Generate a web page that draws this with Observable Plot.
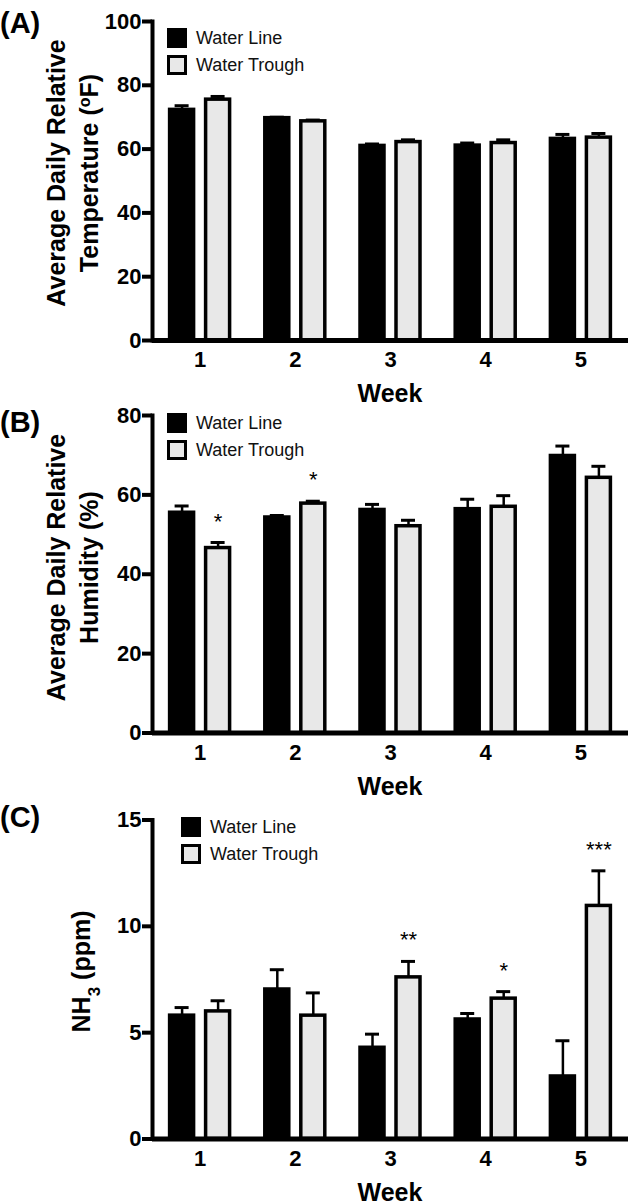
<!DOCTYPE html>
<html>
<head>
<meta charset="utf-8">
<script src="https://cdn.jsdelivr.net/npm/d3@7"></script>
<script src="https://cdn.jsdelivr.net/npm/@observablehq/plot@0.6"></script>
<style>
  html, body { margin: 0; padding: 0; background: #fff; }
  #chart { width: 630px; }
  #chart svg { display: block; }
</style>
</head>
<body>
<div id="chart"></div>
<script>
// ---- data ----
const weeks = [1, 2, 3, 4, 5];
const seriesNames = ["Water Line", "Water Trough"];

const tempLine = [72.3, 69.7, 61.0, 61.1, 63.2];
const tempLineErr = [1.3, 0.3, 0.6, 0.8, 1.4];
const tempTrough = [75.5, 68.7, 62.2, 61.9, 63.6];
const tempTroughErr = [1.0, 0.4, 0.7, 1.0, 1.3];
const tempSig = ["", "", "", "", ""];

const humLine = [55.5, 54.3, 56.2, 56.4, 69.8];
const humLineErr = [1.7, 0.5, 1.4, 2.5, 2.5];
const humTrough = [46.6, 57.8, 52.1, 57.0, 64.3];
const humTroughErr = [1.4, 0.6, 1.5, 2.8, 2.9];
const humSig = ["*", "*", "", "", ""];

const nh3Line = [5.8, 7.03, 4.29, 5.62, 2.94];
const nh3LineErr = [0.38, 0.93, 0.64, 0.28, 1.68];
const nh3Trough = [6.0, 5.8, 7.6, 6.6, 10.96];
const nh3TroughErr = [0.5, 1.07, 0.75, 0.33, 1.65];
const nh3Sig = ["", "", "**", "*", "***"];

const tempTicks = [0, 20, 40, 60, 80, 100];
const humTicks = [0, 20, 40, 60, 80];
const nh3Ticks = [0, 5, 10, 15];

// ---- styling ----
const FONT = "'Liberation Sans', Arial, Helvetica, sans-serif";
const GRAY = "#e8e8e8";
const W = 630, ML = 152, MR = 2;
const OFF = 18;      // half distance between the two bar centers
const BARW = 24;     // bar width (inside stroke)
const CAPW = 14;

function panel(cfg) {
  const step = (W - ML - MR) / weeks.length;
  const rows = (vals, errs, sig) => weeks.map((w, i) => ({week: w, value: vals[i], err: errs[i], sig: sig ? sig[i] : ""}));
  const dLine = rows(cfg.line, cfg.lineErr);
  const dTrough = rows(cfg.trough, cfg.troughErr, cfg.sig);
  const barInsetNear = step / 2 - OFF - BARW / 2;
  const barInsetFar = step - barInsetNear - BARW;
  const capInset = (step - CAPW) / 2;

  const svg = Plot.plot({
    width: W,
    height: cfg.height,
    marginLeft: ML,
    marginRight: MR,
    marginTop: cfg.marginTop,
    marginBottom: cfg.marginBottom,
    style: {fontFamily: FONT, fontWeight: "bold", color: "#000", background: "#fff", overflow: "visible"},
    x: {type: "band", domain: weeks, padding: 0, round: false},
    y: {domain: [0, cfg.yTicks[cfg.yTicks.length - 1]]},
    marks: [
      Plot.barY(dLine, {x: "week", y1: 0, y2: "value", fill: "#000", stroke: "#000", strokeWidth: 3.5,
        insetLeft: barInsetNear, insetRight: barInsetFar}),
      Plot.barY(dTrough, {x: "week", y1: 0, y2: "value", fill: GRAY, stroke: "#000", strokeWidth: 3.5,
        insetLeft: barInsetFar, insetRight: barInsetNear}),
      Plot.ruleX(dLine, {x: "week", y1: "value", y2: d => d.value + d.err, dx: -OFF, stroke: "#000", strokeWidth: 2.5}),
      Plot.ruleX(dTrough, {x: "week", y1: "value", y2: d => d.value + d.err, dx: OFF, stroke: "#000", strokeWidth: 2.5}),
      Plot.tickY(dLine, {x: "week", y: d => d.value + d.err, dx: -OFF, insetLeft: capInset, insetRight: capInset, stroke: "#000", strokeWidth: 3}),
      Plot.tickY(dTrough, {x: "week", y: d => d.value + d.err, dx: OFF, insetLeft: capInset, insetRight: capInset, stroke: "#000", strokeWidth: 3}),
      Plot.text(dTrough.filter(d => d.sig), {x: "week", y: d => d.value + d.err, text: "sig", dx: OFF, dy: -14,
        lineAnchor: "bottom", fontSize: 22, fontWeight: "normal", fill: "#000"}),
      Plot.axisY({ticks: cfg.yTicks, tickSize: 10, tickPadding: 1, strokeWidth: 4, fontSize: 22, fontWeight: "bold",
        label: null, tickFormat: d => String(d)}),
      Plot.axisX({tickSize: 0, tickPadding: 11, fontSize: 22, fontWeight: "bold", label: null}),
      Plot.frame({anchor: "left", stroke: "#000", strokeWidth: 4}),
      Plot.ruleY([0], {stroke: "#000", strokeWidth: 5})
    ]
  });

  const s = d3.select(svg);
  const axisY0 = cfg.height - cfg.marginBottom;

  // panel label
  s.append("text").attr("x", 0).attr("y", cfg.tagY).attr("text-anchor", "start")
    .attr("font-family", FONT).attr("font-weight", "bold").attr("font-size", 29)
    .text(cfg.tag);

  // y label (rotated)
  cfg.ylabel.forEach((line, i) => {
    const t = s.append("text").attr("transform", "rotate(-90)")
      .attr("x", -cfg.ylabelCY).attr("y", cfg.ylabelX[i])
      .attr("text-anchor", "middle").attr("font-family", FONT)
      .attr("font-weight", "bold").attr("font-size", 25).attr("fill", "#000");
    line.forEach(part => {
      const ts = t.append("tspan").text(part.t);
      if (part.sup) ts.attr("baseline-shift", "super").attr("font-size", 16);
      if (part.sub) ts.attr("baseline-shift", "sub").attr("font-size", 17);
    });
  });

  // x label
  s.append("text").attr("x", ML + (W - ML - MR) / 2).attr("y", axisY0 + 62)
    .attr("text-anchor", "middle").attr("font-family", FONT)
    .attr("font-weight", "bold").attr("font-size", 25).text("Week");

  // legend
  const lg = s.append("g");
  seriesNames.forEach((name, i) => {
    const y = cfg.legY + i * 27;
    lg.append("rect").attr("x", cfg.legX + 1.5).attr("y", y + 1.5)
      .attr("width", 17).attr("height", 17)
      .attr("fill", i === 0 ? "#000" : GRAY).attr("stroke", "#000").attr("stroke-width", 3);
    lg.append("text").attr("x", cfg.legX + 29).attr("y", y + 16.3).attr("text-anchor", "start")
      .attr("font-family", FONT).attr("font-weight", "normal").attr("font-size", 18)
      .attr("fill", "#111").text(name);
  });

  document.getElementById("chart").appendChild(svg);
}

panel({
  height: 405, marginTop: 21, marginBottom: 65,
  line: tempLine, lineErr: tempLineErr, trough: tempTrough, troughErr: tempTroughErr, sig: tempSig,
  yTicks: tempTicks, tag: "(A)", tagY: 33,
  ylabel: [[{t: "Average Daily Relative"}], [{t: "Temperature ("}, {t: "o", sup: true}, {t: "F)"}]],
  ylabelX: [65, 98], ylabelCY: 173,
  legX: 167, legY: 28
});

panel({
  height: 395, marginTop: 10, marginBottom: 67.5,
  line: humLine, lineErr: humLineErr, trough: humTrough, troughErr: humTroughErr, sig: humSig,
  yTicks: humTicks, tag: "(B)", tagY: 27,
  ylabel: [[{t: "Average Daily Relative"}], [{t: "Humidity (%)"}]],
  ylabelX: [65, 98], ylabelCY: 162.5,
  legX: 167, legY: 8
});

panel({
  height: 404, marginTop: 19.5, marginBottom: 65.5,
  line: nh3Line, lineErr: nh3LineErr, trough: nh3Trough, troughErr: nh3TroughErr, sig: nh3Sig,
  yTicks: nh3Ticks, tag: "(C)", tagY: 27,
  ylabel: [[{t: "NH"}, {t: "3", sub: true}, {t: " (ppm)"}]],
  ylabelX: [90], ylabelCY: 171.5,
  legX: 181, legY: 17
});
</script>
</body>
</html>
